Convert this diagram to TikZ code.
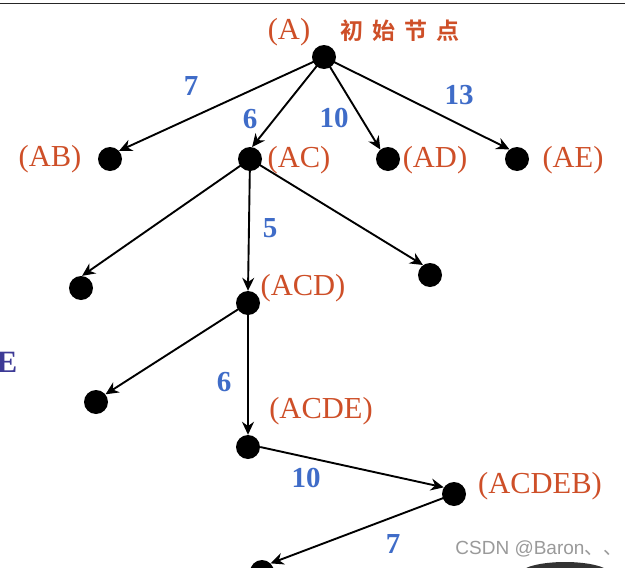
\documentclass[tikz,border=0pt]{standalone}
\usepackage{fontspec}
\setmainfont{Liberation Serif}
\newfontfamily\cjk{Noto Sans CJK SC}[BoldFont={Noto Sans CJK SC Bold}]
\newfontfamily\wm{Liberation Sans}
\usetikzlibrary{arrows.meta}
\definecolor{lab}{HTML}{CE4F28}
\definecolor{wt}{HTML}{3F6CC8}
\definecolor{ey}{HTML}{3D3A96}
\definecolor{wmc}{HTML}{9A9A9A}
\tikzset{
 dotn/.style={circle,fill=black,inner sep=0pt,minimum width=24pt},
 lbl/.style={text=lab,font=\fontsize{30.5}{32}\selectfont,inner sep=0pt},
 wgt/.style={text=wt,font=\fontsize{29}{31}\selectfont\bfseries,inner sep=0pt},
 edge/.style={draw=black,line width=1.9pt,-{Stealth[length=13pt,width=12pt]}}
}
\begin{document}
\begin{tikzpicture}[x=1pt,y=-1pt]
\clip (0,0) rectangle (625,568);
\fill[white] (0,0) rectangle (625,568);
\draw[line width=1.2pt,black!85] (0,3.5) -- (625,3.5);
\node[dotn] (a) at (324,57) {};
\node[dotn] (ab) at (110,159) {};
\node[dotn] (ac) at (250,159) {};
\node[dotn] (ad) at (388,159) {};
\node[dotn] (ae) at (517,159) {};
\node[dotn] (c1) at (81,288) {};
\node[dotn] (acd) at (248,303) {};
\node[dotn] (c2) at (430,275) {};
\node[dotn] (c3) at (96,402) {};
\node[dotn] (acde) at (248,447) {};
\node[dotn] (acdeb) at (454,494) {};
\node[dotn] (last) at (262,572) {};
\draw[edge] (a.center) -- (ab.42);
\draw[edge] (a.center) -- (ac.80);
\draw[edge] (a.center) -- (ad.129);
\draw[edge] (a.center) -- (ae.128);
\draw[edge] (ac.center) -- (c1.85);
\draw[edge] (ac.center) -- (acd.north);
\draw[edge] (ac.center) -- (c2.125);
\draw[edge] (acd.center) -- (c3.39);
\draw[edge] (acd.center) -- (acde.north);
\draw[edge] (acde.east) -- (acdeb.147);
\draw[edge] (acdeb.center) -- (last.45);
\node[lbl] (la) at (289,32) {(A)};
\node[inner sep=0pt,text=lab,font=\cjk\bfseries\fontsize{23}{25}\selectfont] (ti) at (400,31) {初\hspace{9pt}始\hspace{9pt}节\hspace{9pt}点};
\node[lbl] (lab1) at (50,159) {(AB)};
\node[lbl] (lac) at (299,160) {(AC)};
\node[lbl] (lad) at (435,160) {(AD)};
\node[lbl] (lae) at (573,160) {(AE)};
\node[lbl] (lacd) at (303,288) {(ACD)};
\node[lbl] (lacde) at (321,411) {(ACDE)};
\node[lbl] (lacdeb) at (540,486) {(ACDEB)};
\node[wgt] (w1) at (191,86) {7};
\node[wgt] (w2) at (250,119) {6};
\node[wgt] (w3) at (334,118) {10};
\node[wgt] (w4) at (459,95) {13};
\node[wgt] (w5) at (270,228) {5};
\node[wgt] (w6) at (224,382) {6};
\node[wgt] (w7) at (306,478) {10};
\node[wgt] (w8) at (393,544) {7};
\node[inner sep=0pt,text=ey,font=\fontsize{31}{33}\selectfont\bfseries] (e) at (7,362) {E};
\fill[black!80] (565,574) ellipse (45 and 12);
\node[inner sep=0pt,text=wmc,font=\wm\fontsize{19}{21}\selectfont] (mark) at (539,549) {CSDN @Baron{\cjk 、、}};
\end{tikzpicture}
\end{document}
